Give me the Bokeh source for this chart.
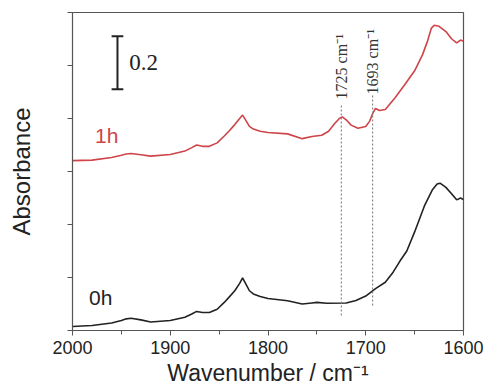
import numpy as np
from bokeh.plotting import figure
from bokeh.models import Range1d, FixedTicker, Label
from bokeh.embed import file_html
from bokeh.resources import INLINE

# Wavenumbers (cm^-1) and absorbance traces
wn_0h = [2000, 1980, 1960, 1950, 1945, 1940, 1930, 1920, 1900, 1885, 1878, 1873, 1867,
         1860, 1852, 1845, 1840, 1834, 1829, 1826, 1823, 1819, 1815, 1808, 1800, 1780,
         1765, 1755, 1750, 1740, 1720, 1710, 1700, 1690, 1680, 1672, 1665, 1658, 1650,
         1640, 1632, 1627, 1624, 1618, 1612, 1607, 1603, 1600]
abs_0h = [0.015, 0.019, 0.028, 0.038, 0.044, 0.046, 0.040, 0.032, 0.038, 0.050, 0.062,
          0.072, 0.068, 0.068, 0.080, 0.105, 0.125, 0.150, 0.178, 0.199, 0.178, 0.150,
          0.138, 0.128, 0.121, 0.112, 0.100, 0.104, 0.106, 0.103, 0.104, 0.113, 0.130,
          0.158, 0.182, 0.220, 0.262, 0.300, 0.372, 0.470, 0.530, 0.553, 0.556, 0.540,
          0.515, 0.493, 0.500, 0.494]

wn_1h = [2000, 1980, 1960, 1950, 1945, 1940, 1930, 1920, 1900, 1885, 1878, 1873, 1867,
         1860, 1852, 1845, 1840, 1834, 1829, 1826, 1823, 1819, 1815, 1808, 1800, 1780,
         1765, 1755, 1745, 1738, 1732, 1727, 1724, 1720, 1715, 1708, 1700, 1696, 1693,
         1690, 1686, 1680, 1670, 1660, 1650, 1642, 1637, 1633, 1630, 1625, 1618, 1612,
         1607, 1603, 1600]
abs_1h = [0.641, 0.643, 0.653, 0.661, 0.666, 0.668, 0.663, 0.658, 0.664, 0.677, 0.690,
          0.700, 0.695, 0.695, 0.708, 0.733, 0.752, 0.777, 0.800, 0.813, 0.795, 0.770,
          0.760, 0.752, 0.747, 0.742, 0.724, 0.732, 0.737, 0.752, 0.780, 0.800, 0.806,
          0.795, 0.775, 0.763, 0.770, 0.790, 0.818, 0.838, 0.830, 0.834, 0.878, 0.928,
          0.980, 1.040, 1.090, 1.140, 1.152, 1.148, 1.128, 1.100, 1.085, 1.096, 1.091]

x_ticks = [2000, 1900, 1800, 1700, 1600]
x_minor = [1950, 1850, 1750, 1650]
y_ticks = [0.0, 0.2, 0.4, 0.6, 0.8, 1.0, 1.2]
peaks = [1725, 1693]
peak_labels = ["1725 cm\u207b\u00b9", "1693 cm\u207b\u00b9"]

RED = "#cf4448"
BLACK = "#222222"
AX = "#555555"

p = figure(frame_width=391, frame_height=318, output_backend="svg", toolbar_location=None,
           x_range=Range1d(2000, 1600), y_range=Range1d(0, 1.2),
           min_border_left=72, min_border_right=21, min_border_top=12,
           min_border_bottom=56)
p.grid.visible = False
p.outline_line_color = AX
p.outline_line_width = 1.2
p.background_fill_color = "white"
p.border_fill_color = "white"

p.line(wn_0h, abs_0h, line_color=BLACK, line_width=1.6)
p.line(wn_1h, abs_1h, line_color=RED, line_width=1.6)

# dotted peak markers
p.segment(x0=[peaks[0]], y0=[0.057], x1=[peaks[0]], y1=[0.853],
          line_color="#888888", line_width=1.2, line_dash="2 2")
p.segment(x0=[peaks[1]], y0=[0.094], x1=[peaks[1]], y1=[0.887],
          line_color="#888888", line_width=1.2, line_dash="2 2")
for xp, yp, txt in zip(peaks, [0.872, 0.891], peak_labels):
    p.add_layout(Label(x=xp, y=yp, text=txt, angle=np.pi / 2, text_align="left",
                       text_baseline="middle", text_font="Liberation Serif",
                       text_font_size="16px", text_color="#333333"))

# scale bar
p.segment(x0=[1954], y0=[0.91], x1=[1954], y1=[1.11], line_color=BLACK, line_width=2)
p.segment(x0=[1960, 1960], y0=[0.91, 1.11], x1=[1948, 1948], y1=[0.91, 1.11],
          line_color=BLACK, line_width=2)
p.add_layout(Label(x=1942, y=1.011, text="0.2", text_align="left", text_baseline="middle",
                   text_font="Liberation Serif", text_font_size="23px", text_color=BLACK))

p.add_layout(Label(x=1977, y=0.736, text="1h", text_align="left", text_baseline="middle",
                   text_font="Liberation Sans", text_font_size="21px", text_color=RED))
p.add_layout(Label(x=1983, y=0.125, text="0h", text_align="left", text_baseline="middle",
                   text_font="Liberation Sans", text_font_size="21px", text_color=BLACK))

xa = p.xaxis[0]
xa.ticker = FixedTicker(ticks=x_ticks, minor_ticks=x_minor)
xa.axis_label = "Wavenumber / cm\u207b\u00b9"
xa.axis_label_text_font = "Liberation Sans"
xa.axis_label_text_font_style = "normal"
xa.axis_label_text_font_size = "23px"
xa.axis_label_standoff = 3
xa.major_label_text_font = "Liberation Sans"
xa.major_label_text_font_size = "18px"
xa.major_label_standoff = 5
xa.major_label_text_color = BLACK
xa.axis_label_text_color = BLACK
xa.axis_line_color = AX
xa.major_tick_line_color = AX
xa.minor_tick_line_color = AX
xa.major_tick_in = 0
xa.major_tick_out = 5
xa.minor_tick_in = 0
xa.minor_tick_out = 4

ya = p.yaxis[0]
ya.ticker = FixedTicker(ticks=y_ticks, minor_ticks=[])
ya.axis_label = "Absorbance"
ya.axis_label_text_font = "Liberation Sans"
ya.axis_label_text_font_style = "normal"
ya.axis_label_text_font_size = "24px"
ya.axis_label_text_color = BLACK
ya.axis_label_standoff = 33
ya.major_label_overrides = {t: "" for t in y_ticks}
ya.axis_line_color = AX
ya.major_tick_line_color = AX
ya.major_tick_in = 0
ya.major_tick_out = 5
ya.minor_tick_line_color = None

open("out.html", "w").write(file_html(p, INLINE))
